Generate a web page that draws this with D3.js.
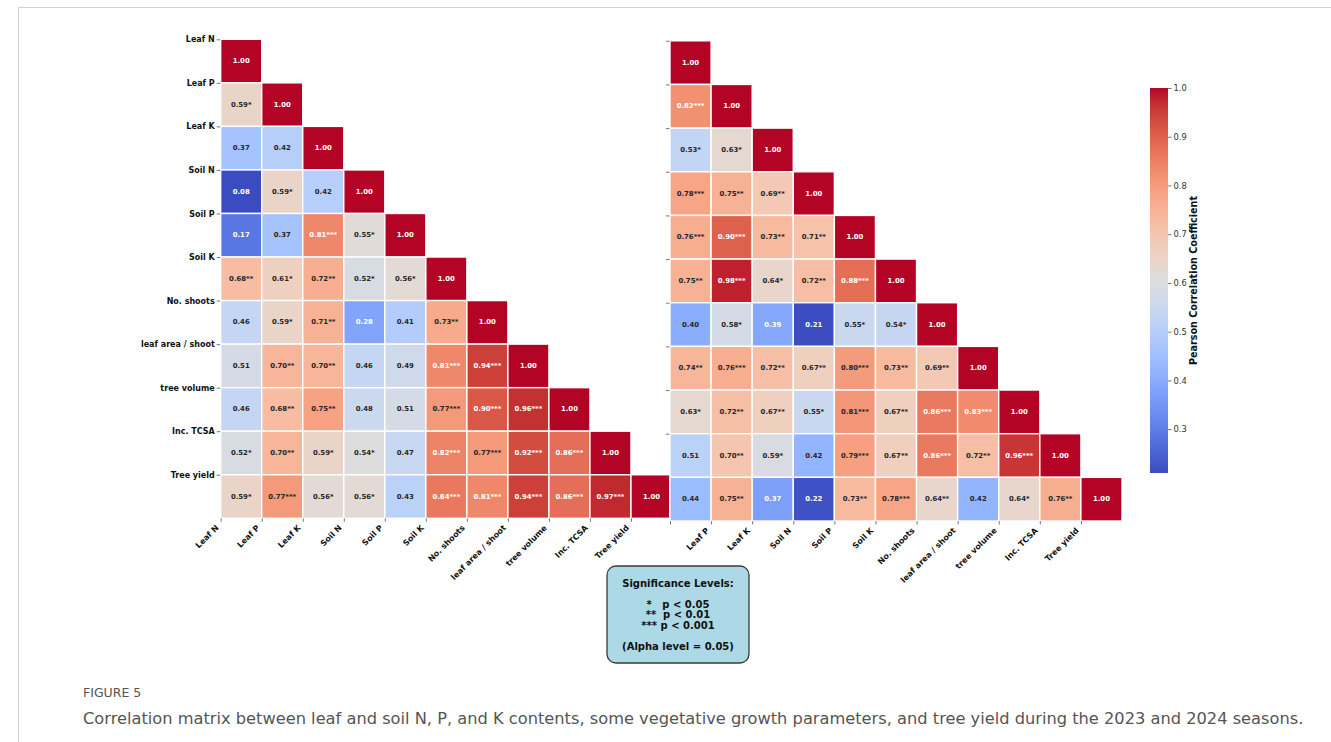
<!DOCTYPE html>
<html>
<head>
<meta charset="utf-8">
<script src="https://cdn.jsdelivr.net/npm/d3@7"></script>
<style>
  html, body { margin: 0; padding: 0; background: #fff; }
  svg { display: block; }
  text { font-family: "DejaVu Sans", sans-serif; }
</style>
</head>
<body>
<svg id="fig" width="1331" height="742"></svg>
<script>
// Variable names shared by both seasons (rows and columns of each matrix)
const variables = ["Leaf N", "Leaf P", "Leaf K", "Soil N", "Soil P", "Soil K",
  "No. shoots", "leaf area / shoot", "tree volume", "Inc. TCSA", "Tree yield"];

// Lower-triangle Pearson coefficients, 2023 season (row i holds columns 0..i)
const r2023 = [
  [1.00],
  [0.59, 1.00],
  [0.37, 0.42, 1.00],
  [0.08, 0.59, 0.42, 1.00],
  [0.17, 0.37, 0.81, 0.55, 1.00],
  [0.68, 0.61, 0.72, 0.52, 0.56, 1.00],
  [0.46, 0.59, 0.71, 0.28, 0.41, 0.73, 1.00],
  [0.51, 0.70, 0.70, 0.46, 0.49, 0.81, 0.94, 1.00],
  [0.46, 0.68, 0.75, 0.48, 0.51, 0.77, 0.90, 0.96, 1.00],
  [0.52, 0.70, 0.59, 0.54, 0.47, 0.82, 0.77, 0.92, 0.86, 1.00],
  [0.59, 0.77, 0.56, 0.56, 0.43, 0.84, 0.81, 0.94, 0.86, 0.97, 1.00]
];
// Number of significance stars for each 2023 coefficient
const sig2023 = [
  [0],
  [1, 0],
  [0, 0, 0],
  [0, 1, 0, 0],
  [0, 0, 3, 1, 0],
  [2, 1, 2, 1, 1, 0],
  [0, 1, 2, 0, 0, 2, 0],
  [0, 2, 2, 0, 0, 3, 3, 0],
  [0, 2, 2, 0, 0, 3, 3, 3, 0],
  [1, 2, 1, 1, 0, 3, 3, 3, 3, 0],
  [1, 3, 1, 1, 0, 3, 3, 3, 3, 3, 0]
];

// Lower-triangle Pearson coefficients, 2024 season
const r2024 = [
  [1.00],
  [0.82, 1.00],
  [0.53, 0.63, 1.00],
  [0.78, 0.75, 0.69, 1.00],
  [0.76, 0.90, 0.73, 0.71, 1.00],
  [0.75, 0.98, 0.64, 0.72, 0.88, 1.00],
  [0.40, 0.58, 0.39, 0.21, 0.55, 0.54, 1.00],
  [0.74, 0.76, 0.72, 0.67, 0.80, 0.73, 0.69, 1.00],
  [0.63, 0.72, 0.67, 0.55, 0.81, 0.67, 0.86, 0.83, 1.00],
  [0.51, 0.70, 0.59, 0.42, 0.79, 0.67, 0.86, 0.72, 0.96, 1.00],
  [0.44, 0.75, 0.37, 0.22, 0.73, 0.78, 0.64, 0.42, 0.64, 0.76, 1.00]
];
const sig2024 = [
  [0],
  [3, 0],
  [1, 1, 0],
  [3, 2, 2, 0],
  [3, 3, 2, 2, 0],
  [2, 3, 1, 2, 3, 0],
  [0, 1, 0, 0, 1, 1, 0],
  [2, 3, 2, 2, 3, 2, 2, 0],
  [1, 2, 2, 1, 3, 2, 3, 3, 0],
  [0, 2, 1, 0, 3, 2, 3, 2, 3, 0],
  [0, 2, 0, 0, 2, 3, 2, 0, 1, 2, 0]
];

// Colour bar ticks
const cbarTicks = [0.3, 0.4, 0.5, 0.6, 0.7, 0.8, 0.9, 1.0];

// Significance legend lines
const legendLines = ["Significance Levels:", "", "*   p < 0.05", "**  p < 0.01",
  "*** p < 0.001", "", "(Alpha level = 0.05)"];

// ---- coolwarm colour map (Moreland diverging) ----
const coolwarmStops = [
  [59,76,192],[68,90,204],[77,104,215],[87,117,225],[98,130,234],[108,142,241],
  [119,154,247],[130,165,251],[141,176,254],[152,185,255],[163,194,255],[174,201,253],
  [184,208,249],[194,213,244],[204,217,238],[213,219,230],[221,221,221],[229,216,209],
  [236,211,197],[241,204,185],[245,196,173],[247,187,160],[247,177,148],[247,166,135],
  [244,154,123],[241,141,111],[236,127,99],[229,112,88],[222,96,77],[213,80,66],
  [203,62,56],[192,40,47],[180,4,38]
].map(c => d3.rgb(c[0], c[1], c[2]).formatHex());
const coolwarm = d3.scaleLinear()
  .domain(coolwarmStops.map((_, i) => i / (coolwarmStops.length - 1)))
  .range(coolwarmStops)
  .interpolate(d3.interpolateRgb)
  .clamp(true);

// Relative luminance decides dark or light annotation text
function luminance(hex) {
  const c = d3.rgb(hex);
  const lin = v => { v /= 255; return v <= 0.03928 ? v / 12.92 : Math.pow((v + 0.055) / 1.055, 2.4); };
  return 0.2126 * lin(c.r) + 0.7152 * lin(c.g) + 0.0722 * lin(c.b);
}

const svg = d3.select("#fig");
svg.append("rect").attr("width", 1331).attr("height", 742).attr("fill", "#fff");

// Page frame
svg.append("path")
  .attr("d", "M18.5,742 V7.5 H1331")
  .attr("fill", "none").attr("stroke", "#d0d0d0").attr("stroke-width", 1);

function drawMatrix(opts) {
  const { values, stars, x0, x1, y0, y1, showYLabels, xLabelStart, clipRight, id } = opts;
  const n = variables.length;
  const flat = values.flat();
  const vmin = d3.min(flat), vmax = d3.max(flat);
  const norm = d3.scaleLinear().domain([vmin, vmax]).range([0, 1]);
  const x = d3.scaleLinear().domain([0, n]).range([x0, x1]);
  const y = d3.scaleLinear().domain([0, n]).range([y0, y1]);

  const cells = [];
  values.forEach((row, i) => row.forEach((v, j) => cells.push({ i, j, v, s: stars[i][j] })));

  const g = svg.append("g");
  if (clipRight !== undefined) {
    svg.append("clipPath").attr("id", id)
      .append("rect").attr("x", x0 - 5).attr("y", y0 - 5)
      .attr("width", clipRight - x0 + 5).attr("height", y1 - y0 + 10);
    g.attr("clip-path", `url(#${id})`);
  }

  g.selectAll("rect.cell").data(cells).join("rect")
    .attr("class", "cell")
    .attr("x", d => x(d.j))
    .attr("y", d => y(d.i))
    .attr("width", d => x(d.j + 1) - x(d.j))
    .attr("height", d => y(d.i + 1) - y(d.i))
    .attr("fill", d => coolwarm(norm(d.v)))
    .attr("stroke", "#fff")
    .attr("stroke-width", 1.4);

  g.selectAll("text.ann").data(cells).join("text")
    .attr("class", "ann")
    .attr("x", d => (x(d.j) + x(d.j + 1)) / 2)
    .attr("y", d => (y(d.i) + y(d.i + 1)) / 2)
    .attr("text-anchor", "middle")
    .attr("dominant-baseline", "central")
    .attr("font-size", 6.9)
    .attr("font-weight", "bold")
    .attr("fill", d => luminance(coolwarm(norm(d.v))) > 0.408 ? "#262626" : "#ffffff")
    .text(d => d.v.toFixed(2) + "*".repeat(d.s));

  // Left axis (ticks at row edges)
  const yAxis = d3.axisLeft(y).tickValues(d3.range(n))
    .tickFormat(i => showYLabels ? variables[i] : "")
    .tickSize(3.5).tickPadding(2);
  const gy = svg.append("g").attr("transform", `translate(${x0 - 0.5},0)`).call(yAxis);
  gy.select(".domain").remove();
  gy.selectAll(".tick line").attr("stroke", "#555").attr("stroke-width", 0.8);
  gy.selectAll(".tick text")
    .attr("font-family", "DejaVu Sans").attr("font-weight", "bold")
    .attr("font-size", 8).attr("fill", "#111");

  // Bottom axis (ticks at column edges), labels rotated
  const xAxis = d3.axisBottom(x).tickValues(d3.range(n))
    .tickFormat(i => i >= xLabelStart ? variables[i] : "")
    .tickSize(3.5);
  const gx = svg.append("g").attr("transform", `translate(0,${y1})`).call(xAxis);
  gx.select(".domain").remove();
  gx.selectAll(".tick line").attr("stroke", "#555").attr("stroke-width", 0.8);
  gx.selectAll(".tick text")
    .attr("font-family", "DejaVu Sans").attr("font-weight", "bold")
    .attr("font-size", 8).attr("fill", "#111")
    .attr("text-anchor", "end")
    .attr("x", 0).attr("y", 0).attr("dy", 0)
    .attr("transform", "translate(-2,10) rotate(-45)");
}

// 2023 season
drawMatrix({ values: r2023, stars: sig2023, x0: 220.7, x1: 672, y0: 39.3, y1: 518.3,
  showYLabels: true, xLabelStart: 0, clipRight: 669, id: "clipL" });
// 2024 season
drawMatrix({ values: r2024, stars: sig2024, x0: 670, x1: 1122, y0: 40.8, y1: 521,
  showYLabels: false, xLabelStart: 1, id: "clipR" });

// ---- Colour bar for the 2024 scale ----
const cbMin = d3.min(r2024.flat()), cbMax = d3.max(r2024.flat());
const cbY = d3.scaleLinear().domain([cbMin, cbMax]).range([473, 88]);
const defs = svg.append("defs");
const grad = defs.append("linearGradient").attr("id", "cbgrad")
  .attr("x1", 0).attr("y1", 1).attr("x2", 0).attr("y2", 0);
d3.range(0, 1.0001, 1 / 40).forEach(t => {
  grad.append("stop").attr("offset", t).attr("stop-color", coolwarm(t));
});
svg.append("rect")
  .attr("x", 1150).attr("y", cbY(cbMax)).attr("width", 18)
  .attr("height", cbY(cbMin) - cbY(cbMax))
  .attr("fill", "url(#cbgrad)");
const cbAxis = d3.axisRight(cbY).tickValues(cbarTicks).tickFormat(d3.format(".1f"))
  .tickSize(3.5).tickPadding(2);
const gcb = svg.append("g").attr("transform", "translate(1168,0)").call(cbAxis);
gcb.select(".domain").remove();
gcb.selectAll(".tick line").attr("stroke", "#555").attr("stroke-width", 0.8);
gcb.selectAll(".tick text").attr("font-family", "DejaVu Sans")
  .attr("font-size", 8.3).attr("fill", "#333");
svg.append("text")
  .attr("transform", `translate(1193,${(cbY(cbMin) + cbY(cbMax)) / 2}) rotate(-90)`)
  .attr("text-anchor", "middle").attr("dominant-baseline", "central")
  .attr("font-weight", "bold").attr("font-size", 9.6).attr("fill", "#111")
  .text("Pearson Correlation Coefficient");

// ---- Significance legend ----
svg.append("rect")
  .attr("x", 607).attr("y", 566).attr("width", 142).attr("height", 97)
  .attr("rx", 9).attr("ry", 9)
  .attr("fill", "#add8e6").attr("stroke", "#3a3a3a").attr("stroke-width", 1.3);
const lineY = [583, 593.5, 604, 614.5, 625, 635.5, 646];
svg.append("g").selectAll("text").data(legendLines).join("text")
  .attr("x", 678).attr("y", (d, i) => lineY[i])
  .attr("text-anchor", "middle").attr("dominant-baseline", "central")
  .attr("font-weight", "bold").attr("font-size", 10).attr("fill", "#111")
  .style("white-space", "pre")
  .text(d => d);

// ---- Caption ----
svg.append("text")
  .attr("x", 83).attr("y", 697)
  .attr("font-family", "'Open Sans', sans-serif")
  .attr("font-size", 12.5).attr("fill", "#555")
  .text("FIGURE 5");
const caption = svg.append("text")
  .attr("x", 83).attr("y", 724)
  .attr("font-family", "Lato, 'Open Sans', sans-serif")
  .attr("font-size", 17).attr("fill", "#555")
  .text("Correlation matrix between leaf and soil N, P, and K contents, some vegetative growth parameters, and tree yield during the 2023 and 2024 seasons.");
// keep the caption within the page's text column
const capLen = caption.node().getComputedTextLength();
if (capLen > 1221) caption.attr("font-size", 17 * 1221 / capLen);
</script>
</body>
</html>
